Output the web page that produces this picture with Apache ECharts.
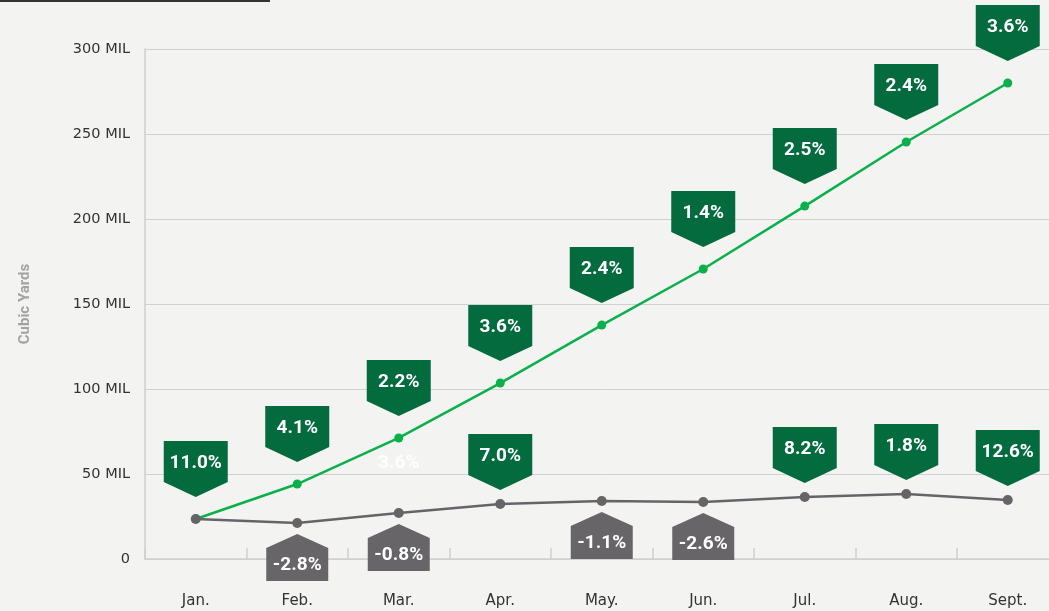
<!DOCTYPE html>
<html>
<head>
<meta charset="utf-8">
<script src="https://cdn.jsdelivr.net/npm/echarts@6/dist/echarts.min.js"></script>
<style>
html,body{margin:0;padding:0;background:#f3f3f2;overflow:hidden;width:1049px;height:611px;}
#chart{width:1060px;height:611px;}
</style>
</head>
<body>
<div id="chart"></div>
<script>
// ---- data ----
const months = ['Jan.', 'Feb.', 'Mar.', 'Apr.', 'May.', 'Jun.', 'Jul.', 'Aug.', 'Sept.'];
// cumulative volume (MIL cubic yards)
const cumulative = [23.5, 44.1, 71.2, 103.5, 137.6, 170.6, 207.6, 245.3, 280.0];
// monthly volume (MIL cubic yards)
const monthly = [23.5, 21.2, 27.1, 32.4, 34.1, 33.5, 36.5, 38.2, 34.7];
// change labels
const cumulativeLabels = ['11.0%', '4.1%', '2.2%', '3.6%', '2.4%', '1.4%', '2.5%', '2.4%', '3.6%'];
const monthlyLabels = [null, '-2.8%', '-0.8%', '7.0%', '-1.1%', '-2.6%', '8.2%', '1.8%', '12.6%'];
const faintLabels = [null, null, '3.6%', null, null, null, null, null, null];
const yTicks = [0, 50, 100, 150, 200, 250, 300];

const GREEN_LINE = '#0ab14b';
const GRAY_LINE = '#676468';
const GREEN_BOX = '#036b3d';
const GRAY_BOX = '#676568';
const LABEL_FONT = 'bold 19px Roboto';

function makeRender(labels, upGap, extraLabels) {
  return function (params, api) {
    const i = api.value(0);
    const v = api.value(1);
    const p = api.coord([i, v]);
    const x = p[0], y = p[1];
    const children = [];
    const lab = labels[i];
    if (lab) {
      const neg = lab.charAt(0) === '-';
      if (!neg) {
        const w = 64, hw = w / 2;
        const tip = y - upGap, sb = tip - 15, top = sb - 41;
        children.push({
          type: 'polygon',
          shape: { points: [[x - hw, top], [x + hw, top], [x + hw, sb], [x, tip], [x - hw, sb]] },
          style: { fill: GREEN_BOX }
        });
        children.push({
          type: 'text',
          style: { text: lab, x: x, y: tip - 34, align: 'center', verticalAlign: 'middle',
                   fill: '#fff', font: LABEL_FONT }
        });
      } else {
        const w = 62, hw = w / 2;
        const apex = y + 11, sh = apex + 14, bot = sh + 33;
        children.push({
          type: 'polygon',
          shape: { points: [[x, apex], [x + hw, sh], [x + hw, bot], [x - hw, bot], [x - hw, sh]] },
          style: { fill: GRAY_BOX }
        });
        children.push({
          type: 'text',
          style: { text: lab, x: x, y: apex + 31, align: 'center', verticalAlign: 'middle',
                   fill: '#fff', font: LABEL_FONT }
        });
      }
    }
    if (extraLabels && extraLabels[i]) {
      children.push({
        type: 'text',
        style: { text: extraLabels[i], x: x, y: y - 50, align: 'center', verticalAlign: 'middle',
                 fill: '#ffffff', opacity: 0.9, font: LABEL_FONT }
      });
    }
    return { type: 'group', children: children };
  };
}

const chart = echarts.init(document.getElementById('chart'));
chart.setOption({
  backgroundColor: '#f3f3f2',
  animation: false,
  grid: { left: 145, top: 49, bottom: 52, right: 1.5, containLabel: false },
  graphic: [{
    type: 'line', shape: { x1: 0, y1: 1, x2: 270, y2: 1 },
    style: { stroke: '#333', lineWidth: 2 }, z: 10
  }],
  xAxis: {
    type: 'category',
    data: months,
    boundaryGap: true,
    axisLine: { lineStyle: { color: '#cfcfcf', width: 1.5 } },
    axisTick: { show: true, inside: true, length: 11, lineStyle: { color: '#cfcfcf', width: 1.5 } },
    axisLabel: { margin: 35, color: '#333', fontSize: 15, fontFamily: 'DejaVu Sans' },
    splitLine: { show: false }
  },
  yAxis: {
    type: 'value',
    min: yTicks[0], max: yTicks[yTicks.length - 1], interval: 50,
    name: 'Cubic Yards',
    nameLocation: 'middle',
    nameRotate: 90,
    nameGap: 112,
    nameTextStyle: { color: '#a3a3a3', fontSize: 15, fontWeight: 'bold', fontFamily: 'Roboto' },
    axisLine: { show: true, lineStyle: { color: '#cfcfcf', width: 1.5 } },
    axisTick: { show: false },
    axisLabel: {
      margin: 15, color: '#333', fontSize: 14.5, fontFamily: 'DejaVu Sans',
      formatter: v => v === 0 ? '0' : v + ' MIL'
    },
    splitLine: { lineStyle: { color: '#d0d0d0', width: 1 } }
  },
  series: [
    {
      type: 'line', name: 'Cumulative', data: cumulative,
      symbol: 'circle', symbolSize: 9,
      lineStyle: { color: GREEN_LINE, width: 2.5 },
      itemStyle: { color: GREEN_LINE }, z: 3
    },
    {
      type: 'line', name: 'Monthly', data: monthly,
      symbol: 'circle', symbolSize: 10,
      lineStyle: { color: GRAY_LINE, width: 2.5 },
      itemStyle: { color: GRAY_LINE }, z: 4
    },
    {
      type: 'custom', name: 'cumLabels',
      data: cumulative.map((v, i) => [i, v]),
      renderItem: makeRender(cumulativeLabels, 22, null), z: 10
    },
    {
      type: 'custom', name: 'monLabels',
      data: monthly.map((v, i) => [i, v]),
      renderItem: makeRender(monthlyLabels, 14, faintLabels), z: 10
    }
  ]
});
</script>
</body>
</html>
